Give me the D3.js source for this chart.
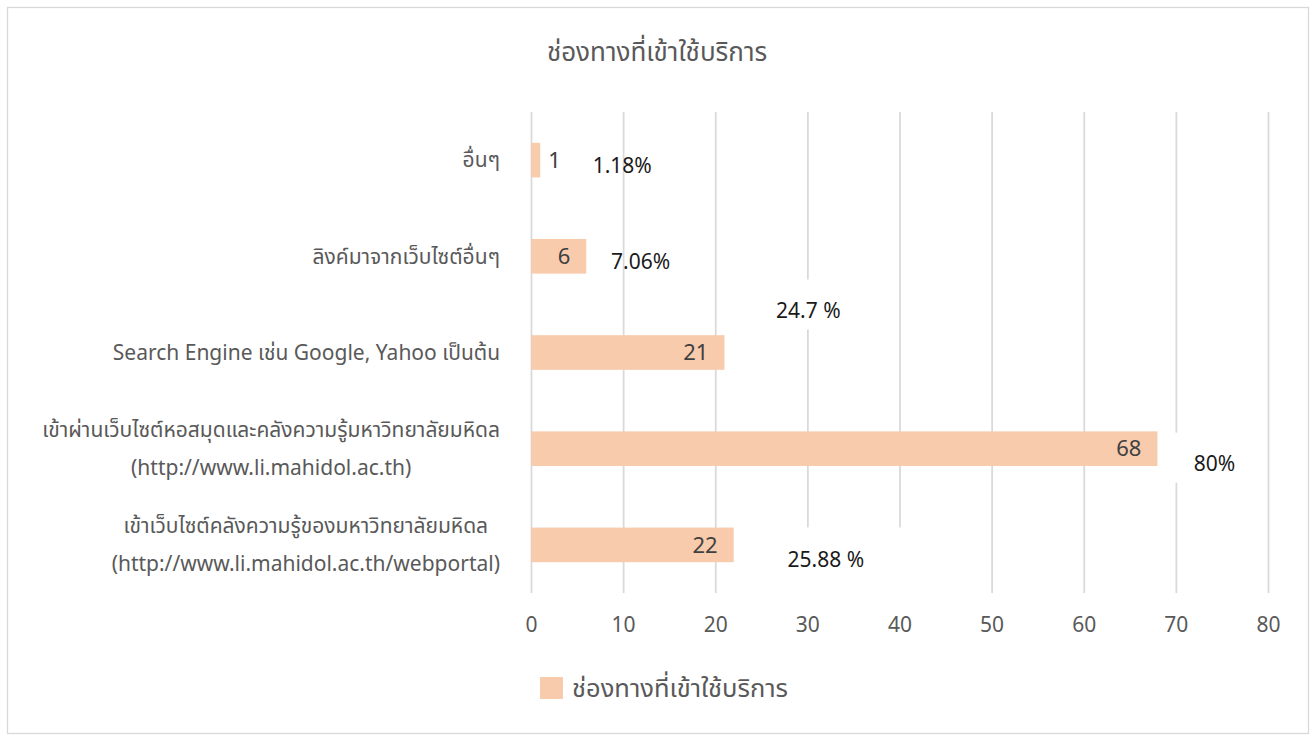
<!DOCTYPE html>
<html>
<head>
<meta charset="utf-8">
<script src="https://cdn.jsdelivr.net/npm/d3@7"></script>
<style>
    body { margin: 0; background: #ffffff; }
    text { font-family: "Leelawadee UI", "Noto Sans Thai", "Open Sans", "Noto Sans", sans-serif; }
</style>
</head>
<body>
<div id="chart"></div>
<script>
// Chart values
const chartTitle = "ช่องทางที่เข้าใช้บริการ";
const seriesName = "ช่องทางที่เข้าใช้บริการ";
const categories = [
    "อื่นๆ",
    "ลิงค์มาจากเว็บไซต์อื่นๆ",
    "Search Engine เช่น Google, Yahoo เป็นต้น",
    "เข้าผ่านเว็บไซต์หอสมุดและคลังความรู้มหาวิทยาลัยมหิดล\n(http://www.li.mahidol.ac.th)",
    "เข้าเว็บไซต์คลังความรู้ของมหาวิทยาลัยมหิดล\n(http://www.li.mahidol.ac.th/webportal)"
];
const counts = [1, 6, 21, 68, 22];
const percentTexts = ["1.18%", "7.06%", "24.7 %", "80%", "25.88 %"];
const xTicks = [0, 10, 20, 30, 40, 50, 60, 70, 80];

// Hand-placed percent text boxes: anchor in value units, shift from the band centre,
// and an optional white backing box (left, top, right, bottom around the text centre)
const percentPlacement = [
    { at: 9.9, dy: 6, box: null },
    { at: 11.9, dy: 5, box: null },
    { at: 30.1, dy: -42, box: [-45, -31, 45, 19] },
    { at: 74.2, dy: 15, box: [-45, -31, 45, 19] },
    { at: 32.0, dy: 14.5, box: [-45, -32, 95, 40] }
];

const dimensions = {
    width: 1316,
    height: 736,
    margins: { top: 112, right: 48, bottom: 143, left: 531 }
};
dimensions.bordWidth = dimensions.width - dimensions.margins.left - dimensions.margins.right;
dimensions.bordHeight = dimensions.height - dimensions.margins.top - dimensions.margins.bottom;

const colors = {
    bar: "#f8cbad",
    grid: "#d9d9d9",
    axisText: "#595959",
    valueText: "#404040",
    percentText: "#1a1a1a"
};

const svg = d3.select("#chart").append("svg")
    .attr("width", dimensions.width)
    .attr("height", dimensions.height);

// Chart area frame
svg.append("rect")
    .attr("x", 7.5)
    .attr("y", 7.5)
    .attr("width", dimensions.width - 15)
    .attr("height", dimensions.height - 10)
    .attr("fill", "#ffffff")
    .attr("stroke", colors.grid)
    .attr("stroke-width", 1.3);

const borders = svg.append("g")
    .attr("transform", `translate(${dimensions.margins.left}, ${dimensions.margins.top})`);

const xScale = d3.scaleLinear()
    .domain([0, 80])
    .range([0, dimensions.bordWidth]);

const yScale = d3.scaleBand()
    .domain(categories)
    .range([0, dimensions.bordHeight])
    .paddingInner(0.64)
    .paddingOuter(0.32);

// Vertical gridlines
borders.append("g")
    .attr("class", "grid")
    .attr("transform", `translate(0, ${dimensions.bordHeight})`)
    .call(d3.axisBottom(xScale).tickValues(xTicks).tickSize(-dimensions.bordHeight).tickFormat(""))
    .call(g => g.select(".domain").remove())
    .call(g => g.selectAll("line").attr("stroke", colors.grid).attr("stroke-width", 1.75));

// Tick labels
borders.append("g")
    .attr("class", "x-axis")
    .attr("transform", `translate(0, ${dimensions.bordHeight})`)
    .call(d3.axisBottom(xScale).tickValues(xTicks).tickSize(0))
    .call(g => g.select(".domain").remove())
    .call(g => g.selectAll("text")
        .attr("y", 32)
        .attr("dy", "0.35em")
        .attr("fill", colors.axisText)
        .style("font-size", "21px"));

// Bars
const rows = categories.map((c, i) => ({ category: c, value: counts[i], pct: percentTexts[i], place: percentPlacement[i] }));

borders.selectAll(".bar")
    .data(rows)
    .enter().append("rect")
    .attr("class", "bar")
    .attr("x", 0)
    .attr("y", d => yScale(d.category))
    .attr("width", d => xScale(d.value))
    .attr("height", yScale.bandwidth())
    .attr("fill", colors.bar);

// Value labels at the inside end (outside when the bar is too short)
borders.selectAll(".bar-label")
    .data(rows)
    .enter().append("text")
    .attr("class", "bar-label")
    .attr("y", d => yScale(d.category) + yScale.bandwidth() / 2)
    .attr("dy", "0.35em")
    .attr("fill", colors.valueText)
    .style("font-size", "22px")
    .text(d => d.value)
    .each(function (d) {
        const w = this.getComputedTextLength();
        const end = xScale(d.value);
        if (end > w + 24) {
            d3.select(this).attr("x", end - 16).attr("text-anchor", "end");
        } else {
            d3.select(this).attr("x", end + 8).attr("text-anchor", "start");
        }
    });

// Percent text boxes
const pct = borders.selectAll(".pct")
    .data(rows)
    .enter().append("g")
    .attr("class", "pct")
    .attr("transform", d => `translate(${xScale(d.place.at)}, ${yScale(d.category) + yScale.bandwidth() / 2 + d.place.dy})`);

pct.filter(d => d.place.box)
    .append("rect")
    .attr("x", d => d.place.box[0])
    .attr("y", d => d.place.box[1])
    .attr("width", d => d.place.box[2] - d.place.box[0])
    .attr("height", d => d.place.box[3] - d.place.box[1])
    .attr("fill", "#ffffff");

pct.append("text")
    .attr("text-anchor", "middle")
    .attr("dy", "0.35em")
    .attr("fill", colors.percentText)
    .style("font-size", "21px")
    .text(d => d.pct);

// Category labels: block right-aligned to the axis, lines centred inside the block
const catGroup = svg.append("g").attr("class", "y-labels");
rows.forEach(d => {
    const lines = d.category.split("\n");
    const cy = dimensions.margins.top + yScale(d.category) + yScale.bandwidth() / 2;
    const step = 38;
    const label = catGroup.append("text")
        .attr("text-anchor", "middle")
        .attr("fill", colors.axisText)
        .style("font-size", "21px");
    lines.forEach((line, i) => {
        label.append("tspan")
            .attr("y", cy + (i - (lines.length - 1) / 2) * step)
            .attr("dy", "0.35em")
            .text(line);
    });
    let maxW = 0;
    label.selectAll("tspan").each(function () { maxW = Math.max(maxW, this.getComputedTextLength()); });
    label.selectAll("tspan").attr("x", 500 - maxW / 2);
});

// Title
svg.append("text")
    .attr("x", 657)
    .attr("y", 52)
    .attr("dy", "0.35em")
    .attr("text-anchor", "middle")
    .attr("fill", colors.axisText)
    .style("font-size", "26px")
    .text(chartTitle);

// Legend
const legend = svg.append("g").attr("transform", "translate(540, 677)");
legend.append("rect")
    .attr("width", 23)
    .attr("height", 22)
    .attr("fill", colors.bar);
legend.append("text")
    .attr("x", 32)
    .attr("y", 11)
    .attr("dy", "0.35em")
    .attr("fill", colors.axisText)
    .style("font-size", "25.5px")
    .text(seriesName);
</script>
</body>
</html>
